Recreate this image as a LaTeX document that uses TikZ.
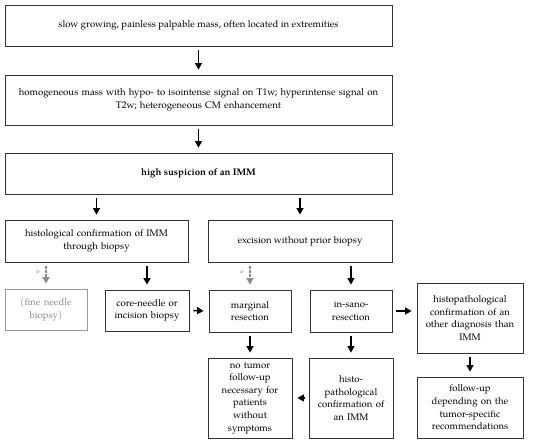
\documentclass[tikz,border=0pt]{standalone}
\usepackage{fontspec}
\setmainfont{TeX Gyre Pagella}
\usetikzlibrary{arrows.meta}
\begin{document}
\begin{tikzpicture}[x=1pt,y=1pt,
  box/.style={draw=black!80, line width=0.8pt, align=center, inner sep=2pt, font=\fontsize{9.6}{12.6}\selectfont},
  graybox/.style={box, draw=black!40, text=black!45},
  arr/.style={line width=1.3pt, -{Triangle[length=6.5pt,width=7pt]}, shorten <=4pt, shorten >=5pt},
  darr/.style={line width=1.1pt, dashed, dash pattern=on 2.5pt off 1.5pt, draw=black!45, -{Triangle[length=6.5pt,width=7pt,fill=black!45]}, shorten <=4pt, shorten >=5pt},
  olab/.style={text=black!45, font=\fontsize{6}{6}\selectfont, inner sep=1pt}]
\useasboundingbox (0,0) rectangle (550,-443);
\fill[white] (0,0) rectangle (550,-443);
\node[box, minimum width=387pt, minimum height=41pt] (b1) at (198.5,-25.5) {slow growing, painless palpable mass, often located in extremities};
\node[box, minimum width=387pt, minimum height=50pt, text width=380pt] (b2) at (198.5,-100) {homogeneous mass with hypo- to isointense signal on T1w; hyperintense signal on\\ T2w; heterogeneous CM enhancement};
\node[box, minimum width=387pt, minimum height=41pt] (b3) at (198.5,-173.5) {\bfseries high suspicion of an IMM};
\node[box, minimum width=183pt, minimum height=42pt, text width=175pt] (hist) at (96.5,-241) {histological confirmation of IMM\\ through biopsy};
\node[box, minimum width=184pt, minimum height=42pt] (exc) at (300,-241) {excision without prior biopsy};
\node[graybox, minimum width=82pt, minimum height=41pt, text width=78pt] (fine) at (46,-309.5) {(fine needle\\ biopsy)};
\node[box, minimum width=82pt, minimum height=41pt, text width=80pt] (core) at (147,-310.5) {core-needle or\\ incision biopsy};
\node[box, minimum width=82pt, minimum height=42pt, text width=78pt] (marg) at (250,-311) {marginal\\ resection};
\node[box, minimum width=82pt, minimum height=42pt, text width=78pt] (insano) at (351,-311) {in-sano-\\ resection};
\node[box, minimum width=104pt, minimum height=70pt, text width=102pt] (other) at (470,-318) {histopathological\\ confirmation of an\\ other diagnosis than\\ IMM};
\node[box, minimum width=82pt, minimum height=80pt, text width=80pt] (notumor) at (250,-398) {no tumor\\ follow-up\\ necessary for\\ patients\\ without\\ symptoms};
\node[box, minimum width=82pt, minimum height=80pt, text width=80pt] (himm) at (351,-398) {histo-\\ pathological\\ confirmation of\\ an IMM};
\node[box, minimum width=104pt, minimum height=61pt, text width=102pt] (follow) at (470,-407.5) {follow-up\\ depending on the\\ tumor-specific\\ recommendations};
\draw[arr] (b1.south) -- (b2.north);
\draw[arr] (b2.south) -- (b3.north);
\draw[arr] (b3.south -| hist.north) -- (hist.north);
\draw[arr] (b3.south -| exc.north) -- (exc.north);
\draw[darr] (hist.south -| fine.north) -- (fine.north);
\draw[arr] (hist.south -| core.north) -- (core.north);
\draw[darr] (exc.south -| marg.north) -- (marg.north);
\draw[arr] (exc.south -| insano.north) -- (insano.north);
\draw[arr] (core.east) -- (marg.west);
\draw[arr] (insano.east) -- (insano.east -| other.west);
\draw[arr] (marg.south) -- (notumor.north);
\draw[arr] (insano.south) -- (himm.north);
\draw[arr] (himm.west) -- (notumor.east);
\draw[arr] (other.south) -- (follow.north);
\node[olab] (o1) at ([xshift=-8pt,yshift=-10pt]hist.south -| fine.north) {ø};
\node[olab] (o2) at ([xshift=-8pt,yshift=-10pt]exc.south -| marg.north) {ø};
\end{tikzpicture}
\end{document}
